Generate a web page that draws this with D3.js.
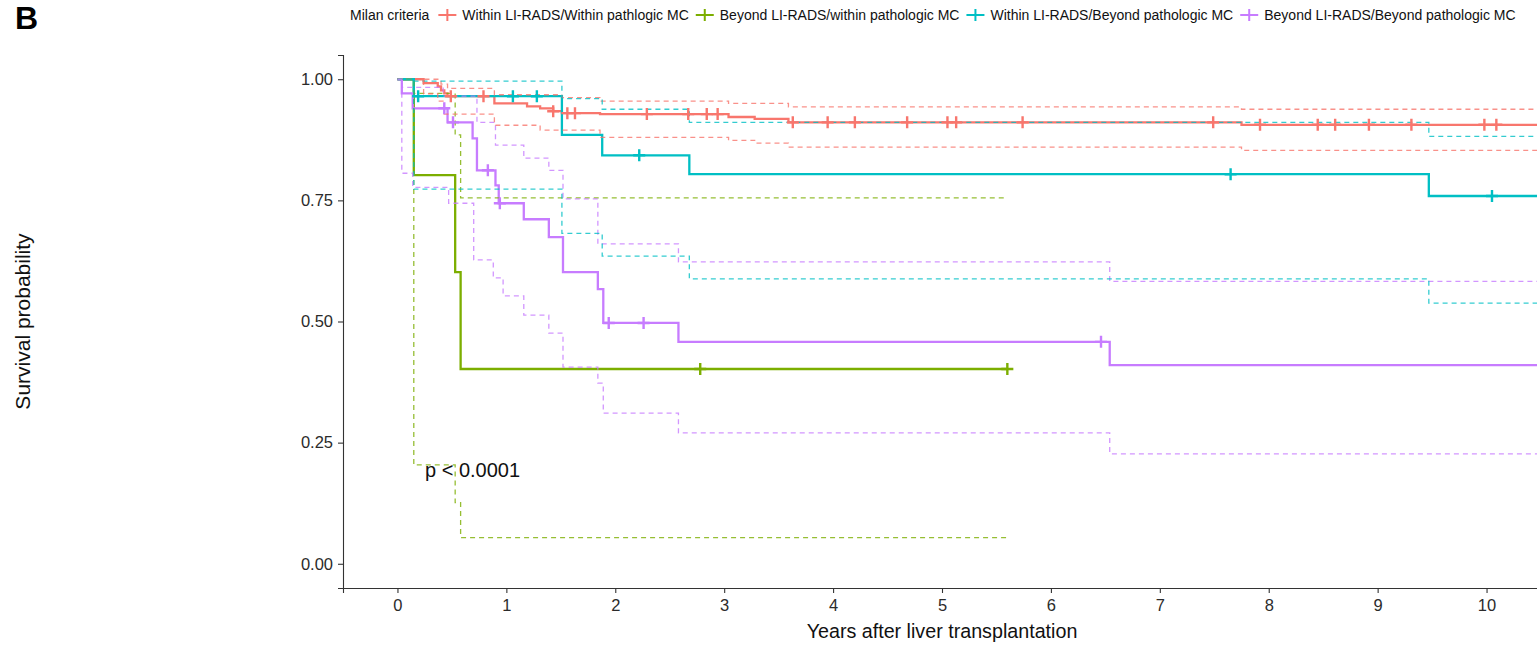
<!DOCTYPE html>
<html>
<head>
<meta charset="utf-8">
<script src="https://cdn.jsdelivr.net/npm/d3@7"></script>
<style>
  body { margin: 0; background: #fff; }
  svg { font-family: "Liberation Sans", Arial, sans-serif; }
</style>
</head>
<body>
<svg id="chart" width="1537" height="646"></svg>
<script>
// Grupos y colores
const grupos = [
  "Within LI-RADS/Within pathlogic MC",
  "Beyond LI-RADS/within pathologic MC",
  "Within LI-RADS/Beyond pathologic MC",
  "Beyond LI-RADS/Beyond pathologic MC"
];
const colores = ["#F8766D", "#7CAE00", "#00BFC4", "#C77CFF"];

// Curvas de supervivencia [tiempo, supervivencia]
const survRojo = [[0,1],[0.24,0.992],[0.37,0.985],[0.40,0.977],[0.43,0.971],[0.46,0.965],[0.89,0.950],[1.19,0.944],[1.31,0.940],[1.43,0.934],[1.51,0.930],[1.86,0.928],[3.04,0.922],[3.28,0.918],[3.59,0.911],[7.75,0.906]];
const survVerde = [[0,1],[0.15,0.802],[0.53,0.602],[0.58,0.402]];
const survCian = [[0,1],[0.15,0.965],[1.51,0.885],[1.88,0.843],[2.68,0.804],[9.47,0.759]];
const survMorado = [[0,1],[0.04,0.971],[0.14,0.940],[0.46,0.911],[0.69,0.878],[0.73,0.812],[0.90,0.781],[0.93,0.744],[1.16,0.711],[1.39,0.674],[1.52,0.602],[1.84,0.567],[1.89,0.497],[2.58,0.458],[6.54,0.410]];

// Intervalos de confianza
const supRojo = [[0,1],[0.40,0.990],[0.46,0.981],[0.89,0.968],[1.51,0.962],[1.86,0.955],[3.04,0.950],[3.59,0.943],[7.75,0.938]];
const infRojo = [[0,1],[0.24,0.970],[0.37,0.955],[0.43,0.928],[0.89,0.905],[1.31,0.895],[1.86,0.880],[3.04,0.874],[3.28,0.868],[3.59,0.860],[7.75,0.853]];
const supVerde = [[0,1],[0.15,0.971],[0.53,0.885],[0.58,0.755]];
const infVerde = [[0,1],[0.15,0.204],[0.53,0.126],[0.58,0.054]];
const supCian = [[0,1],[0.15,0.996],[1.51,0.960],[1.88,0.938],[2.68,0.911],[9.47,0.882]];
const infCian = [[0,1],[0.15,0.773],[1.51,0.682],[1.88,0.635],[2.68,0.588],[9.47,0.538]];
const supMorado = [[0,1],[0.04,0.983],[0.42,0.965],[0.73,0.911],[0.90,0.864],[1.16,0.837],[1.39,0.812],[1.52,0.753],[1.84,0.660],[2.58,0.623],[6.54,0.583]];
const infMorado = [[0,1],[0.04,0.806],[0.14,0.777],[0.47,0.744],[0.70,0.627],[0.88,0.590],[0.97,0.553],[1.16,0.513],[1.39,0.476],[1.52,0.406],[1.84,0.373],[1.89,0.311],[2.58,0.270],[6.54,0.227]];

// Censuras
const censRojo = [0.49,0.79,1.43,1.56,1.63,2.29,2.67,2.84,2.94,3.63,3.95,4.20,4.68,5.05,5.13,5.74,7.49,7.92,8.45,8.61,8.92,9.31,9.98,10.09];
const censVerde = [2.78,5.60];
const censCian = [0.19,1.06,1.28,2.22,7.65,10.05];
const censMorado = [0.43,0.51,0.83,0.94,1.94,2.26,6.46];

// Fin de seguimiento por grupo
const finSeguimiento = [10.6, 5.6, 10.6, 10.6];

const xTicks = [0,1,2,3,4,5,6,7,8,9,10];
const yTicks = [0,0.25,0.5,0.75,1];

const surv = [survRojo, survVerde, survCian, survMorado];
const sup = [supRojo, supVerde, supCian, supMorado];
const inf = [infRojo, infVerde, infCian, infMorado];
const cens = [censRojo, censVerde, censCian, censMorado];

const svg = d3.select("#chart");
const margin = {top: 55, left: 343, right: 1541, bottom: 588};

const x = d3.scaleLinear().domain([-0.5, 10.5]).range([margin.left, margin.right]);
const y = d3.scaleLinear().domain([-0.05, 1.05]).range([margin.bottom, margin.top]);

svg.append("clipPath").attr("id", "panel")
  .append("rect")
  .attr("x", margin.left).attr("y", margin.top)
  .attr("width", margin.right - margin.left).attr("height", margin.bottom - margin.top);

const linea = d3.line().x(d => x(d[0])).y(d => y(d[1])).curve(d3.curveStepAfter);
const conFin = (pasos, fin) => pasos.concat([[fin, pasos[pasos.length - 1][1]]]);
function survEn(pasos, t) {
  let v = pasos[0][1];
  pasos.forEach(p => { if (p[0] <= t) v = p[1]; });
  return v;
}

const g = svg.append("g").attr("clip-path", "url(#panel)");

// Curvas principales
surv.forEach((s, i) => {
  g.append("path")
    .datum(conFin(s, finSeguimiento[i]))
    .attr("fill", "none")
    .attr("stroke", colores[i])
    .attr("stroke-width", 2.3)
    .attr("d", linea);
});

// IC con líneas discontinuas
[sup, inf].forEach(banda => {
  banda.forEach((s, i) => {
    g.append("path")
      .datum(conFin(s, finSeguimiento[i]))
      .attr("fill", "none")
      .attr("stroke", colores[i])
      .attr("stroke-width", 1.3)
      .attr("stroke-opacity", 0.8)
      .attr("stroke-dasharray", "5,4")
      .attr("d", linea);
  });
});

// Marcas de censura
cens.forEach((c, i) => {
  c.forEach(t => {
    const cx = x(t), cy = y(survEn(surv[i], t));
    g.append("path")
      .attr("d", `M${cx - 6},${cy}H${cx + 6}M${cx},${cy - 6}V${cy + 6}`)
      .attr("stroke", colores[i])
      .attr("stroke-width", 2.4);
  });
});

// Ejes
const ejeX = svg.append("g")
  .attr("transform", `translate(0,${margin.bottom})`)
  .call(d3.axisBottom(x).tickValues(xTicks).tickSizeOuter(0).tickSize(5).tickPadding(6));
const ejeY = svg.append("g")
  .attr("transform", `translate(${margin.left},0)`)
  .call(d3.axisLeft(y).tickValues(yTicks).tickFormat(d3.format(".2f")).tickSizeOuter(0).tickSize(5).tickPadding(5));
[ejeX, ejeY].forEach(e => {
  e.select(".domain").attr("stroke", "#333").attr("stroke-width", 1.1);
  e.selectAll(".tick line").attr("stroke", "#333").attr("stroke-width", 1.1);
  e.selectAll(".tick text").attr("fill", "#2b2b2b").attr("font-size", 16.5)
    .attr("font-family", "Liberation Sans, Arial, sans-serif");
});

// Títulos de ejes
svg.append("text")
  .attr("x", (margin.left + margin.right) / 2).attr("y", 638)
  .attr("text-anchor", "middle").attr("font-size", 19.7).attr("fill", "#111")
  .text("Years after liver transplantation");
svg.append("text")
  .attr("transform", `translate(30,${(margin.top + margin.bottom) / 2}) rotate(-90)`)
  .attr("text-anchor", "middle").attr("font-size", 21).attr("fill", "#111")
  .text("Survival probability");

// Letra del panel
svg.append("text")
  .attr("x", 15).attr("y", 29)
  .attr("font-size", 32).attr("font-weight", "bold")
  .text("B");

// Valor p
svg.append("text")
  .attr("x", 425).attr("y", 477)
  .attr("font-size", 20).attr("fill", "#111")
  .text("p < 0.0001");

// Leyenda
const leyenda = svg.append("g").attr("transform", "translate(350,20)");
const titulo = leyenda.append("text").attr("font-size", 14).attr("fill", "#111").text("Milan criteria");
let pos = titulo.node().getComputedTextLength() + 8;
grupos.forEach((nombre, i) => {
  const cx = pos + 10;
  leyenda.append("path")
    .attr("d", `M${cx - 9},-5H${cx + 9}M${cx},-11V1`)
    .attr("stroke", colores[i]).attr("stroke-width", 2);
  const t = leyenda.append("text")
    .attr("x", pos + 25).attr("font-size", 14).attr("fill", "#111")
    .text(nombre);
  pos += 25 + t.node().getComputedTextLength() + 6;
});
</script>
</body>
</html>
